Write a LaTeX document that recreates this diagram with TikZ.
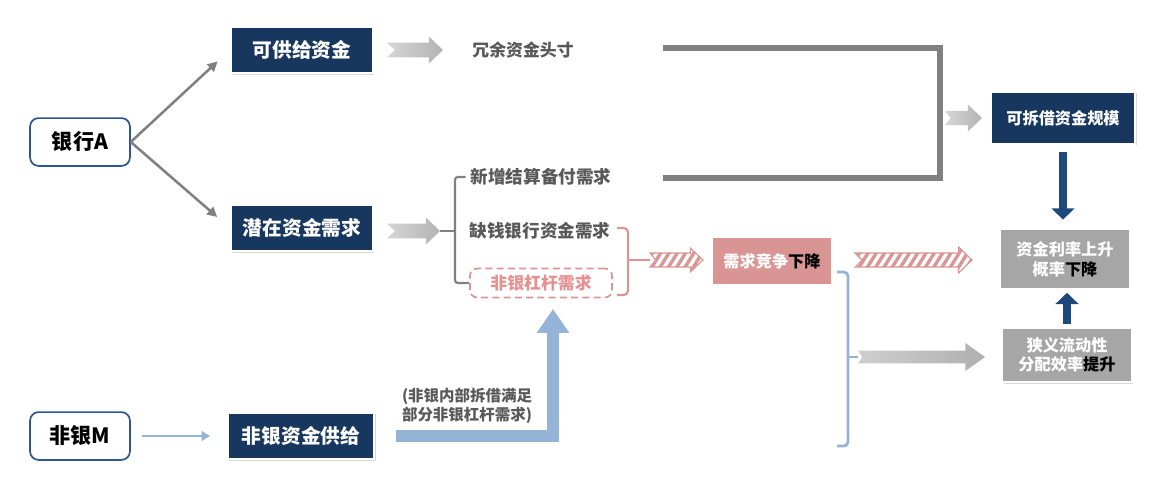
\documentclass[tikz,border=0pt]{standalone}
\usepackage{fontspec}
\setmainfont{Noto Sans CJK SC}
\usetikzlibrary{arrows.meta,calc,shadows,patterns.meta}
\definecolor{navyc}{RGB}{23,55,94}
\definecolor{arrownavy}{RGB}{31,73,125}
\definecolor{framec}{RGB}{47,85,151}
\definecolor{pinkc}{RGB}{217,149,148}
\definecolor{pinktxt}{RGB}{228,146,145}
\definecolor{bluec}{RGB}{149,179,215}
\definecolor{darkgrayc}{RGB}{89,89,89}
\definecolor{boxgrayc}{RGB}{166,166,166}
\definecolor{linegrayc}{RGB}{128,128,128}
\def\blockarrow[#1](#2)(#3)#4#5#6#7{\path[#1] let \p1=(#2), \p2=(#3) in (\x1,\y1-#4) -- (\x2-#6,\y1-#4) -- (\x2-#6,\y1-#5) -- (\x2,\y1) -- (\x2-#6,\y1+#5) -- (\x2-#6,\y1+#4) -- (\x1,\y1+#4) -- (\x1+#7,\y1) -- cycle;}

\begin{document}
\begin{tikzpicture}[x=0.025cm,y=-0.025cm,
	boxshadow/.style={drop shadow={opacity=0.3,shadow xshift=1pt,shadow yshift=-1pt}},
	navybox/.style={boxshadow,fill=navyc,draw=white,line width=1.5pt,text=white,font=\bfseries\fontsize{14}{16}\selectfont,minimum width=101pt,minimum height=33pt,inner sep=2pt},
	graybox/.style={boxshadow,fill=boxgrayc,draw=white,line width=1.5pt,text=white,font=\bfseries\fontsize{11.5}{14}\selectfont,minimum width=92pt,align=center,inner sep=2pt},
	bankbox/.style={draw=framec,line width=1.2pt,rounded corners=6pt,fill=white,minimum width=71pt,minimum height=34pt,font=\bfseries\fontsize{15}{17}\selectfont},
	labeltxt/.style={text=darkgrayc,font=\bfseries\fontsize{12.5}{15}\selectfont},
	grayarrow/.style={draw=linegrayc,line width=1.8pt,-{Triangle[width=7pt,length=7pt]}},
	navyarrow/.style={draw=arrownavy,line width=5.5pt,-{Triangle[width=16pt,length=8pt]}},
	grayblock/.style={left color=gray!32,right color=gray!60,draw=none},
	hatcharrow/.style={draw=pinkc,line width=0.8pt,pattern={Lines[angle=58,distance=5pt,line width=2.4pt]},pattern color=pinkc},
	graybracket/.style={draw=linegrayc,line width=1.5pt,rounded corners=2pt},
	pinkbracket/.style={draw=pinkc,line width=1.5pt,rounded corners=3pt},
	bluebracket/.style={draw=bluec,line width=2pt,rounded corners=3pt}]
	%%%%% START %%%%%
	\useasboundingbox (0,0) rectangle (1164,501);
	
	\node[bankbox] (bankA) at (80,142) {银行A};
	\node[bankbox] (bankM) at (80,436) {非银M};
	
	\node[navybox] (supply) at (302,50) {可供给资金};
	\node[navybox] (latent) at (302,228) {潜在资金需求};
	\node[navybox, minimum width=104pt] (nbsupply) at (301,436) {非银资金供给};
	\node[navybox, minimum width=103pt, minimum height=37pt, font=\bfseries\fontsize{11.5}{14}\selectfont] (scale) at (1063,118) {可拆借资金规模};
	
	\node[labeltxt, font=\bfseries\fontsize{12}{14}\selectfont] (surplus) at (523,50) {冗余资金头寸};
	\node[labeltxt] (newset) at (541,177) {新增结算备付需求};
	\node[labeltxt] (shortbank) at (540,231) {缺钱银行资金需求};
	\node[draw=pinkc, dashed, dash pattern=on 5pt off 3pt, line width=1.2pt, rounded corners=5pt, minimum width=101pt, minimum height=20.5pt, text=pinktxt, font=\bfseries\fontsize{12}{14}\selectfont] (nbdemand) at (541,283) {非银杠杆需求};
	\node[labeltxt, font=\bfseries\fontsize{11}{13}\selectfont, align=center] (note) at (467,406) {(非银内部拆借满足\\部分非银杠杆需求)};
	
	\node[boxshadow, fill=pinkc, draw=white, line width=1.5pt, text=white, font=\bfseries\fontsize{11.5}{14}\selectfont, minimum width=86pt, minimum height=34pt] (compete) at (772,261) {需求竞争\textcolor{black}{下降}};
	\node[graybox, minimum height=42.5pt] (rate) at (1065,259) {资金利率上升\\概率\textcolor{black}{下降}};
	\node[graybox, minimum height=39pt] (effic) at (1067,355) {狭义流动性\\分配效率\textcolor{black}{提升}};
	
	\coordinate (a1s) at (387,50);
	\coordinate (a1e) at (443,50);
	\coordinate (a2s) at (387,231);
	\coordinate (a2e) at (440,231);
	\coordinate (a3s) at (945,118);
	\coordinate (a3e) at (982,118);
	\coordinate (a4s) at (858,357);
	\coordinate (a4e) at (985,357);
	\coordinate (p1s) at (650,260);
	\coordinate (p1e) at (703,260);
	\coordinate (p2s) at (855,260);
	\coordinate (p2e) at (972,260);
	\coordinate (gbx) at (455,231);
	\coordinate (pk1) at (617,228);
	\coordinate (pk2) at (628,228);
	\coordinate (pk3) at (628,295);
	\coordinate (pk4) at (617,295);
	\coordinate (pkx) at (628,260);
	\coordinate (bl1) at (837,272);
	\coordinate (bl2) at (848,272);
	\coordinate (bl3) at (848,446);
	\coordinate (bl4) at (837,446);
	\coordinate (blx) at (848,357);
	\coordinate (tb1) at (663,48);
	\coordinate (tb2) at (940,48);
	\coordinate (tb3) at (940,178);
	\coordinate (tb4) at (663,178);
	\coordinate (nbtip) at (553,309);
	
	\draw[grayarrow, shorten >=12pt] (bankA.east) -- (supply.west);
	\draw[grayarrow, shorten >=12pt] (bankA.east) -- (latent.west);
	\draw[draw=bluec, line width=2pt, -{Triangle[width=7pt,length=6pt]}, shorten <=8pt, shorten >=12pt] (bankM.east) -- (nbsupply.west);
	
	\blockarrow[grayblock](a1s)(a1e){5.2pt}{9.6pt}{10pt}{5.7pt}
	\blockarrow[grayblock](a2s)(a2e){5.2pt}{9.6pt}{10pt}{5.7pt}
	\blockarrow[grayblock](a3s)(a3e){5pt}{9.6pt}{10pt}{4pt}
	\blockarrow[left color=gray!38, right color=gray!62, draw=none](a4s)(a4e){4.6pt}{10pt}{14pt}{3pt}
	\blockarrow[hatcharrow](p1s)(p1e){5pt}{8.5pt}{9pt}{4pt}
	\blockarrow[hatcharrow](p2s)(p2e){5pt}{9.2pt}{9.5pt}{5pt}
	
	\draw[graybracket] (newset.west) -- (newset.west -| gbx) -- (nbdemand.west -| gbx) -- (nbdemand.west);
	\draw[graybracket] (gbx) -- (a2e);
	\draw[pinkbracket] (pk1) -- (pk2) -- (pk3) -- (pk4);
	\draw[pinkbracket] (pkx) -- (p1s);
	\draw[bluebracket] (bl1) -- (bl2) -- (bl3) -- (bl4);
	\draw[bluebracket] (blx) -- (a4s);
	\draw[line width=4.3pt, draw=linegrayc] (tb1) -- (tb2) -- (tb3) -- (tb4);
	
	\draw[draw=bluec, line width=8.5pt, line join=miter, -{Triangle[width=22pt,length=17pt]}, shorten <=15pt] (nbsupply.east) -- (nbsupply.east -| nbtip) -- (nbtip);
	
	\draw[navyarrow, shorten <=5pt, shorten >=6pt] (scale.south) -- (scale.south |- rate.north);
	\draw[navyarrow, shorten <=2pt, shorten >=2pt] (effic.north) -- (effic.north |- rate.south);
	
	%%%%% END %%%%%
\end{tikzpicture}
\end{document}
